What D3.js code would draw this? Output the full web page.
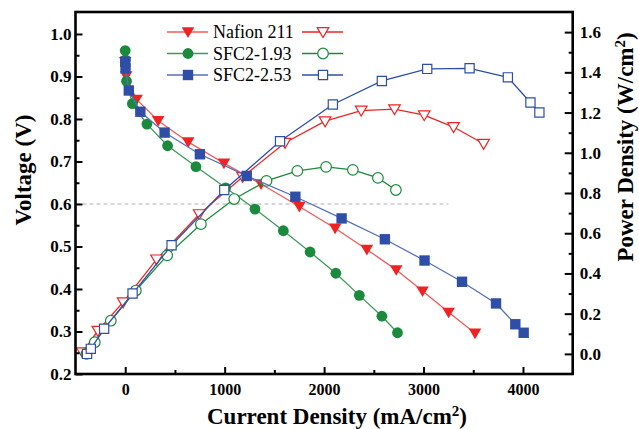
<!DOCTYPE html>
<html>
<head>
<meta charset="utf-8">
<script src="https://cdnjs.cloudflare.com/ajax/libs/d3/7.8.5/d3.min.js"></script>
<style>
  body { margin: 0; background: #fff; }
  svg { display: block; }
  text { font-family: "Liberation Serif", "Times New Roman", serif; }
</style>
</head>
<body>
<script>
// ---- data ----
var seriesNames = ['Nafion 211', 'SFC2-1.93', 'SFC2-2.53'];

var nafionI = [0, 10, 114, 331, 633, 993, 1366, 1751, 2111, 2430, 2725, 2990, 3252, 3518];
var nafionV = [0.935, 0.901, 0.846, 0.796, 0.746, 0.696, 0.647, 0.594, 0.543, 0.493, 0.445, 0.395, 0.345, 0.296];
var nafionPI = [-430, -275, -21, 315, 744, 1181, 1607, 2010, 2373, 2708, 3007, 3302, 3604];
var nafionP = [0.008, 0.115, 0.257, 0.47, 0.695, 0.88, 1.05, 1.157, 1.21, 1.217, 1.187, 1.128, 1.045];

var sfc193I = [0, 2, 13, 72, 218, 426, 711, 1010, 1305, 1590, 1859, 2118, 2354, 2581, 2738];
var sfc193V = [0.961, 0.939, 0.889, 0.836, 0.788, 0.737, 0.688, 0.638, 0.588, 0.537, 0.487, 0.437, 0.385, 0.336, 0.297];
var sfc193PI = [-390, -306, -145, 107, 422, 761, 1096, 1421, 1731, 2020, 2289, 2541, 2722];
var sfc193P = [0.0, 0.058, 0.165, 0.315, 0.49, 0.645, 0.77, 0.86, 0.91, 0.93, 0.915, 0.875, 0.815];

var sfc253I = [0, 3, 36, 152, 396, 751, 1222, 1711, 2176, 2611, 3010, 3387, 3729, 3923, 4007];
var sfc253V = [0.935, 0.919, 0.867, 0.817, 0.768, 0.717, 0.666, 0.617, 0.566, 0.517, 0.467, 0.417, 0.366, 0.317, 0.297];
var sfc253PI = [-384, -346, -212, 74, 466, 996, 1557, 2088, 2581, 3037, 3463, 3848, 4075, 4165];
var sfc253P = [0.0, 0.025, 0.125, 0.30, 0.54, 0.815, 1.057, 1.24, 1.357, 1.417, 1.42, 1.375, 1.25, 1.20];

var xTicks = [0, 1000, 2000, 3000, 4000];
var vTicks = [0.2, 0.3, 0.4, 0.5, 0.6, 0.7, 0.8, 0.9, 1.0];
var pTicks = [0.0, 0.2, 0.4, 0.6, 0.8, 1.0, 1.2, 1.4, 1.6];
var refVoltage = 0.6;
var refEndI = 3250;

// ---- layout ----
var W = 639, H = 429;
var plotL = 75.5, plotR = 572.7, plotT = 12, plotB = 374;

var svg = d3.select('body').append('svg')
    .attr('width', W)
    .attr('height', H);

var x = d3.scaleLinear().domain([-500, 4500]).range([plotL, plotR]);
var yV = d3.scaleLinear().domain([0.2, 1.0517]).range([plotB, plotT]);
var yP = d3.scaleLinear().domain([-0.1, 1.7]).range([plotB, plotT]);

var colors = ['#ee2424', '#1b8a3c', '#2f4fa6'];
var lineColors = ['#f25a5a', '#3f9a58', '#5670b8'];
var shapes = ['tri', 'circle', 'square'];

function zip(a, b) {
    return a.map(function(v, i) { return [v, b[i]]; });
}

var series = [
    { v: zip(nafionI, nafionV), p: zip(nafionPI, nafionP) },
    { v: zip(sfc193I, sfc193V), p: zip(sfc193PI, sfc193P) },
    { v: zip(sfc253I, sfc253V), p: zip(sfc253PI, sfc253P) }
];

// marker paths centred on 0,0
function markerPath(shape, open) {
    if (shape === 'tri') {
        var s = open ? 5.8 : 6.3;
        return 'M' + (-s) + ',' + (-s * 0.75) + 'L' + s + ',' + (-s * 0.75) + 'L0,' + (s * 0.95) + 'Z';
    }
    if (shape === 'square') {
        var h = open ? 4.6 : 5.2;
        return 'M' + (-h) + ',' + (-h) + 'H' + h + 'V' + h + 'H' + (-h) + 'Z';
    }
    var r = open ? 5.3 : 5.4;
    return 'M' + r + ',0A' + r + ',' + r + ' 0 1,1 ' + (-r) + ',0A' + r + ',' + r + ' 0 1,1 ' + r + ',0Z';
}

// ---- reference dashed line ----
svg.append('line')
    .attr('x1', x(-500))
    .attr('x2', x(refEndI))
    .attr('y1', yV(refVoltage))
    .attr('y2', yV(refVoltage))
    .attr('stroke', '#b0b0b0')
    .attr('stroke-width', 1.2)
    .attr('stroke-dasharray', '4,3');

// ---- series ----
var lineV = d3.line().x(function(d) { return x(d[0]); }).y(function(d) { return yV(d[1]); });
var lineP = d3.line().x(function(d) { return x(d[0]); }).y(function(d) { return yP(d[1]); });

series.forEach(function(s, k) {
    var g = svg.append('g').attr('class', 'series-' + k);

    g.append('path')
        .attr('d', lineP(s.p))
        .attr('fill', 'none')
        .attr('stroke', colors[k])
        .attr('stroke-width', 1.3);
    g.append('path')
        .attr('d', lineV(s.v))
        .attr('fill', 'none')
        .attr('stroke', lineColors[k])
        .attr('stroke-width', 1.3);

    g.selectAll('path.open')
        .data(s.p)
        .enter()
        .append('path')
        .attr('class', 'open')
        .attr('d', markerPath(shapes[k], true))
        .attr('transform', function(d) { return 'translate(' + x(d[0]) + ',' + yP(d[1]) + ')'; })
        .attr('fill', '#fff')
        .attr('stroke', colors[k])
        .attr('stroke-width', 1.2);

    g.selectAll('path.filled')
        .data(s.v)
        .enter()
        .append('path')
        .attr('class', 'filled')
        .attr('d', markerPath(shapes[k], false))
        .attr('transform', function(d) { return 'translate(' + x(d[0]) + ',' + yV(d[1]) + ')'; })
        .attr('fill', colors[k])
        .attr('stroke', 'none');
});

// ---- axes (ticks point inward) ----
function minorRange(a, b, step) {
    return d3.range(a, b + step / 2, step);
}

svg.append('g').attr('class', 'xaxis').attr('transform', 'translate(0,' + plotB + ')')
    .call(d3.axisBottom(x).tickValues(xTicks).tickSize(-7).tickSizeOuter(0).tickPadding(10)
        .tickFormat(d3.format('d')));
svg.append('g').attr('transform', 'translate(0,' + plotB + ')')
    .call(d3.axisBottom(x).tickValues([500, 1500, 2500, 3500]).tickSize(-4).tickSizeOuter(0).tickFormat(''));

svg.append('g').attr('class', 'yaxis').attr('transform', 'translate(' + plotL + ',0)')
    .call(d3.axisLeft(yV).tickValues(vTicks).tickSize(-7).tickSizeOuter(0).tickPadding(4)
        .tickFormat(d3.format('.1f')));
svg.append('g').attr('transform', 'translate(' + plotL + ',0)')
    .call(d3.axisLeft(yV).tickValues(minorRange(0.25, 0.95, 0.1)).tickSize(-4).tickSizeOuter(0).tickFormat(''));

svg.append('g').attr('class', 'yaxis').attr('transform', 'translate(' + plotR + ',0)')
    .call(d3.axisRight(yP).tickValues(pTicks).tickSize(-8).tickSizeOuter(0).tickPadding(7)
        .tickFormat(d3.format('.1f')));
svg.append('g').attr('transform', 'translate(' + plotR + ',0)')
    .call(d3.axisRight(yP).tickValues(minorRange(0.1, 1.5, 0.2)).tickSize(-4).tickSizeOuter(0).tickFormat(''));

svg.selectAll('.domain').remove();
svg.selectAll('.tick line').attr('stroke', '#000').attr('stroke-width', 2);
svg.selectAll('.xaxis .tick text')
    .style('font', 'bold 16px "Liberation Serif"')
    .attr('fill', '#000');
svg.selectAll('.yaxis .tick text')
    .style('font', 'bold 17px "Liberation Serif"')
    .attr('fill', '#000');

// frame
svg.append('rect')
    .attr('x', plotL)
    .attr('y', plotT)
    .attr('width', plotR - plotL)
    .attr('height', plotB - plotT)
    .attr('fill', 'none')
    .attr('stroke', '#000')
    .attr('stroke-width', 2.6);

// ---- axis titles ----
var titleFont = 'bold 23px "Liberation Serif"';

var xt = svg.append('text')
    .attr('x', 337)
    .attr('y', 424)
    .attr('text-anchor', 'middle')
    .style('font', titleFont);
xt.append('tspan').text('Current Density (mA/cm');
xt.append('tspan').attr('dy', -8).style('font-size', '15px').text('2');
xt.append('tspan').attr('dy', 8).text(')');

svg.append('text')
    .attr('transform', 'translate(31,170) rotate(-90)')
    .attr('text-anchor', 'middle')
    .style('font', titleFont)
    .text('Voltage (V)');

var pt = svg.append('text')
    .attr('transform', 'translate(633,147) rotate(-90)')
    .attr('text-anchor', 'middle')
    .style('font', titleFont);
pt.append('tspan').text('Power Density (W/cm');
pt.append('tspan').attr('dy', -8).style('font-size', '15px').text('2');
pt.append('tspan').attr('dy', 8).text(')');

// ---- legend ----
var legY = [32, 53.5, 75];
var legend = svg.append('g');

seriesNames.forEach(function(name, k) {
    var row = legend.append('g').attr('transform', 'translate(0,' + legY[k] + ')');
    row.append('line')
        .attr('x1', 167).attr('x2', 208)
        .attr('stroke', lineColors[k]).attr('stroke-width', 1.3);
    row.append('path')
        .attr('d', markerPath(shapes[k], false))
        .attr('transform', 'translate(188,0)')
        .attr('fill', colors[k]);
    row.append('text')
        .attr('x', 213)
        .attr('y', 6)
        .style('font', '18px "Liberation Serif"')
        .text(name);
    row.append('line')
        .attr('x1', 302).attr('x2', 343)
        .attr('stroke', colors[k]).attr('stroke-width', 1.3);
    row.append('path')
        .attr('d', markerPath(shapes[k], true))
        .attr('transform', 'translate(323,0)')
        .attr('fill', '#fff')
        .attr('stroke', colors[k])
        .attr('stroke-width', 1.2);
});
</script>
</body>
</html>
